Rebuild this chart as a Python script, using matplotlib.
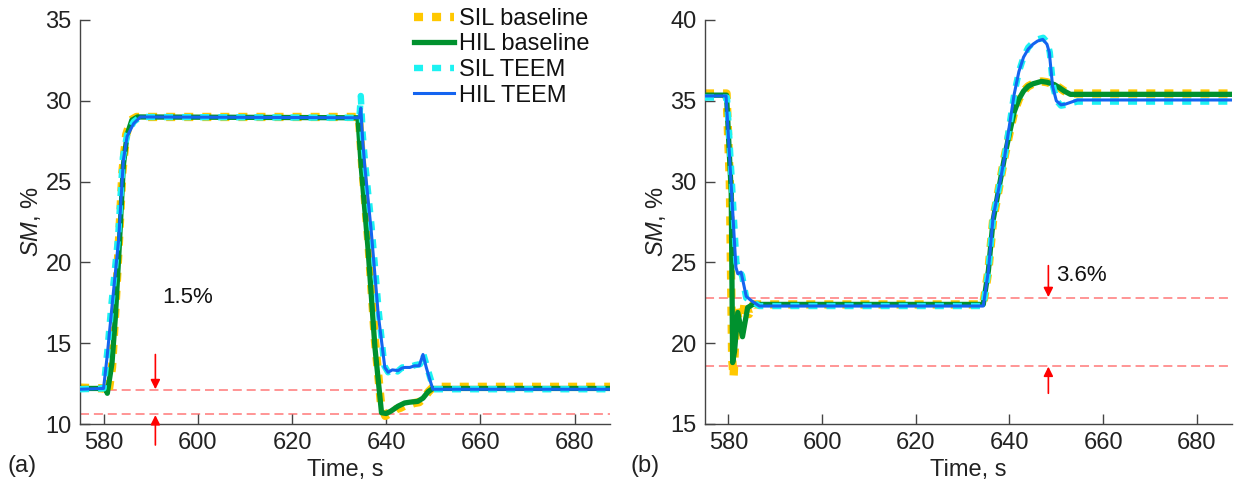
import numpy as np
import matplotlib
matplotlib.use("Agg")
import matplotlib.pyplot as plt

# fonts / style
plt.rcParams['font.family'] = ['Liberation Sans', 'DejaVu Sans']
plt.rcParams['mathtext.fontset'] = 'custom'
plt.rcParams['mathtext.rm'] = 'Liberation Sans'
plt.rcParams['mathtext.it'] = 'Liberation Sans:italic'
plt.rcParams['lines.scale_dashes'] = False

# ---------------- DATA ----------------
# panel (a)
t_a_sil_base = [575, 580.3, 581.0, 581.8, 582.5, 583.3, 584.0, 584.8, 585.8, 587.0, 634.2, 634.9,
                636.2, 637.6, 638.9, 639.8, 641.0, 642.0, 643.0, 644.0, 645.0, 646.0, 647.0,
                648.0, 649.0, 650.0, 687.5]
y_a_sil_base = [12.25, 12.2, 11.85, 13.5, 17.0, 21.5, 25.6, 27.9, 28.8, 29.0, 29.0, 26.0,
                21.3, 15.2, 11.2, 10.5, 10.7, 10.9, 11.0, 11.15, 11.2, 11.3, 11.35,
                11.6, 12.0, 12.3, 12.3]

t_a_hil_base = [575, 580.4, 580.8, 581.8, 582.5, 583.3, 584.2, 585.0, 586.0, 587.2, 634.0, 634.7,
                636.1, 637.6, 639.0, 640.0, 641.0, 642.5, 643.9, 645.0, 646.7, 647.8, 648.9,
                649.9, 687.5]
y_a_hil_base = [12.2, 12.2, 11.9, 13.8, 16.6, 20.8, 26.0, 27.9, 28.8, 29.0, 28.95, 25.9,
                21.0, 14.75, 10.7, 10.65, 10.8, 11.1, 11.3, 11.35, 11.4, 11.6, 12.0,
                12.2, 12.2]

t_a_sil_teem = [575, 580.0, 580.8, 581.7, 583.1, 584.1, 585.0, 586.4, 587.8, 634.3, 634.6, 635.0,
                635.5, 636.9, 638.4, 639.6, 640.4, 641.3, 642.4, 643.4, 644.3, 645.2, 646.2,
                647.2, 647.9, 648.6, 649.3, 650.1, 687.5]
y_a_sil_teem = [12.15, 12.2, 14.5, 17.5, 21.6, 26.5, 27.9, 28.7, 29.0, 28.95, 30.3, 28.0,
                26.2, 22.2, 17.0, 13.6, 13.2, 13.4, 13.25, 13.5, 13.5, 13.55, 13.65,
                13.7, 14.3, 13.6, 12.9, 12.15, 12.15]

t_a_hil_teem = [575, 580.0, 580.8, 581.8, 583.2, 584.2, 585.0, 586.4, 587.8, 634.3, 634.6, 635.0,
                635.4, 636.8, 638.3, 639.7, 640.4, 641.3, 642.5, 643.3, 643.9, 645.0, 646.0,
                647.0, 647.8, 648.5, 649.2, 649.9, 687.5]
y_a_hil_teem = [12.15, 12.2, 14.3, 17.3, 21.4, 26.3, 27.8, 28.6, 29.0, 28.95, 29.55, 27.6,
                26.1, 22.0, 16.8, 13.5, 13.2, 13.35, 13.3, 13.45, 13.5, 13.5, 13.6,
                13.6, 14.3, 13.5, 12.8, 12.15, 12.15]

# panel (b)
t_b_sil_base = [575, 579.6, 580.3, 580.8, 581.1, 581.8, 582.6, 583.5, 584.4, 585.3, 586.5, 634.4,
                635.5, 636.5, 638.0, 639.0, 640.0, 641.0, 642.0, 643.0, 644.0, 645.0, 646.8,
                648.0, 649.6, 650.7, 651.7, 653.0, 687.5]
y_b_sil_base = [35.45, 35.45, 30.0, 19.0, 17.9, 22.3, 20.3, 22.6, 21.8, 22.4, 22.4, 22.4,
                24.5, 27.6, 30.0, 31.6, 33.0, 34.3, 35.1, 35.6, 35.9, 36.05, 36.2,
                36.15, 36.0, 35.8, 35.6, 35.45, 35.45]

t_b_hil_base = [575, 579.6, 580.6, 580.9, 581.3, 582.0, 583.0, 584.1, 585.2, 586.5, 634.4,
                635.5, 636.5, 638.0, 639.0, 640.0, 641.0, 642.0, 643.0, 644.0, 645.0, 646.8,
                648.0, 649.6, 650.7, 651.7, 653.0, 687.5]
y_b_hil_base = [35.35, 35.35, 29.3, 18.8, 19.5, 21.9, 20.4, 22.2, 22.4, 22.4, 22.4,
                24.5, 27.6, 30.0, 31.6, 33.0, 34.3, 35.1, 35.6, 35.9, 36.05, 36.2,
                36.15, 36.0, 35.8, 35.6, 35.4, 35.4]

t_b_sil_teem = [575, 579.7, 581.0, 581.7, 582.2, 582.9, 583.8, 585.0, 586.6, 634.4, 635.5,
                636.5, 638.0, 639.0, 640.0, 641.0, 642.0, 643.0, 644.0, 645.0, 646.0, 647.2,
                648.1, 648.6, 649.3, 650.1, 651.0, 652.0, 653.0, 654.5, 687.5]
y_b_sil_teem = [35.2, 35.2, 28.6, 25.0, 24.5, 24.2, 22.8, 22.6, 22.3, 22.3, 24.5,
                27.8, 30.0, 31.6, 33.5, 35.4, 36.8, 37.7, 38.3, 38.6, 38.8, 38.9,
                38.6, 38.0, 35.9, 35.0, 34.7, 34.75, 34.85, 34.95, 34.95]

t_b_hil_teem = [575, 579.5, 580.9, 581.6, 582.0, 582.7, 583.8, 584.8, 586.6, 634.4, 635.5,
                636.5, 638.0, 639.0, 640.0, 641.0, 642.0, 643.0, 644.0, 645.0, 646.0, 647.1,
                648.0, 648.5, 649.2, 650.0, 651.0, 652.0, 653.0, 654.5, 687.5]
y_b_hil_teem = [35.3, 35.3, 28.2, 24.7, 24.3, 24.4, 22.9, 22.65, 22.3, 22.3, 24.5,
                27.8, 30.0, 31.6, 33.5, 35.4, 36.8, 37.7, 38.2, 38.5, 38.7, 38.8,
                38.5, 38.0, 35.9, 35.0, 34.75, 34.8, 34.9, 35.05, 35.05]

labels = ['SIL baseline', 'HIL baseline', 'SIL TEEM', 'HIL TEEM']

# threshold lines and annotations
thr_a = [12.1, 10.6]
thr_b = [22.8, 18.6]
note_a = '1.5%'
note_b = '3.6%'

# ---------------- STYLE ----------------
c_yellow = '#FFC800'
c_green = '#00912E'
c_cyan = '#1CF2F2'
c_blue = '#1464F0'
c_red_line = '#FF8C8C'
c_axis = '#444444'
fs = 17


def draw_series(ax, sil_b, hil_b, sil_t, hil_t):
    ax.plot(sil_b[0], sil_b[1], color=c_yellow, lw=6.0, dashes=(6.5, 6.5),
            dash_capstyle='butt', label=labels[0], zorder=2)
    ax.plot(hil_b[0], hil_b[1], color=c_green, lw=3.8, label=labels[1],
            solid_joinstyle='round', zorder=3)
    ax.plot(sil_t[0], sil_t[1], color=c_cyan, lw=4.6, dashes=(6.5, 6.5),
            dash_capstyle='butt', label=labels[2], zorder=4)
    ax.plot(hil_t[0], hil_t[1], color=c_blue, lw=2.2, label=labels[3],
            solid_joinstyle='round', zorder=5)


def style_axes(ax, ylim, yticks):
    ax.set_xlim(575, 687.5)
    ax.set_ylim(*ylim)
    ax.set_xticks([580, 600, 620, 640, 660, 680])
    ax.set_yticks(yticks)
    for s in ['top', 'right']:
        ax.spines[s].set_visible(False)
    for s in ['left', 'bottom']:
        ax.spines[s].set_color(c_axis)
        ax.spines[s].set_linewidth(1.0)
    ax.tick_params(direction='in', length=7, width=1.0, color=c_axis,
                   labelsize=fs, labelcolor='#222222', pad=6)
    ax.set_xlabel('Time, s', fontsize=fs, color='#222222', labelpad=3)
    ax.set_ylabel(r'$\it{SM}$, %', fontsize=fs, color='#222222', labelpad=1.5)


def red_arrows(ax, x, y_top_from, y_top_to, y_bot_from, y_bot_to):
    for y0, y1 in [(y_top_from, y_top_to), (y_bot_from, y_bot_to)]:
        ax.annotate('', xy=(x, y1), xytext=(x, y0), annotation_clip=False,
                    arrowprops=dict(arrowstyle='-|>', color='red', lw=1.2,
                                    mutation_scale=14, shrinkA=0, shrinkB=0))


fig = plt.figure(figsize=(12.35, 4.86), dpi=100)
ax1 = fig.add_axes([80 / 1235, 62 / 486, 530 / 1235, 404 / 486])
ax2 = fig.add_axes([705 / 1235, 62 / 486, 527 / 1235, 404 / 486])

# panel (a)
draw_series(ax1, (t_a_sil_base, y_a_sil_base), (t_a_hil_base, y_a_hil_base),
            (t_a_sil_teem, y_a_sil_teem), (t_a_hil_teem, y_a_hil_teem))
for yv in thr_a:
    ax1.axhline(yv, color=c_red_line, lw=1.3, dashes=(6.5, 3.5), zorder=1)
style_axes(ax1, (10, 35), [10, 15, 20, 25, 30, 35])
red_arrows(ax1, 591, 14.3, 12.15, 8.7, 10.55)
ax1.text(592.5, 17.8, note_a, fontsize=16, va='center', ha='left', color='#111111')

leg = ax1.legend(loc='upper left', bbox_to_anchor=(0.63, 1.03), frameon=False,
                 fontsize=fs, handlelength=1.7, handletextpad=0.2,
                 labelspacing=0.15, borderaxespad=0, borderpad=0)
for txt in leg.get_texts():
    txt.set_color('#111111')

# panel (b)
draw_series(ax2, (t_b_sil_base, y_b_sil_base), (t_b_hil_base, y_b_hil_base),
            (t_b_sil_teem, y_b_sil_teem), (t_b_hil_teem, y_b_hil_teem))
for yv in thr_b:
    ax2.axhline(yv, color=c_red_line, lw=1.3, dashes=(6.5, 3.5), zorder=1)
style_axes(ax2, (15, 40), [15, 20, 25, 30, 35, 40])
red_arrows(ax2, 648.3, 24.8, 22.85, 16.9, 18.55)
ax2.text(650.0, 24.2, note_b, fontsize=16, va='center', ha='left', color='#111111')

fig.text(22 / 1235, 1 - 466 / 486, '(a)', fontsize=fs, va='center', ha='center', color='#222222')
fig.text(645 / 1235, 1 - 466 / 486, '(b)', fontsize=fs, va='center', ha='center', color='#222222')

fig.savefig('out.png', dpi=100)
